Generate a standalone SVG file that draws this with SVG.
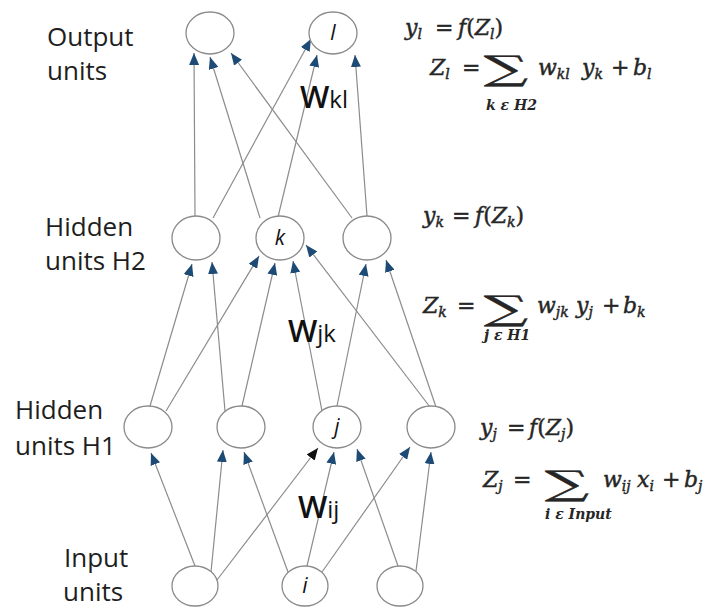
<svg xmlns="http://www.w3.org/2000/svg" width="719" height="608" viewBox="0 0 719 608">
<style>
.bg{fill:#ffffff}
.node{fill:#ffffff;stroke:#8a8a8a;stroke-width:1.3}
.lbl{font-family:"Open Sans","Noto Sans",sans-serif;font-size:26px;fill:#1e1e1e}
.nl{font-family:"Open Sans","Noto Sans",sans-serif;font-style:italic;font-size:21px;fill:#111;text-anchor:middle}
.w{font-family:"Open Sans","Noto Sans",sans-serif;fill:#111}
.m{font-family:"DejaVu Serif","Liberation Serif",serif;font-style:italic;font-size:22px;fill:#262626;stroke:#262626;stroke-width:0.45}
.up{font-style:normal}
.sb{font-size:14px}
.sg{font-family:"DejaVu Serif","Liberation Serif",serif;font-size:40px;fill:#262626;stroke:#262626;stroke-width:0.4;text-anchor:middle}
.lim{font-family:"DejaVu Serif","Liberation Serif",serif;font-style:italic;font-size:14px;font-weight:bold;fill:#262626}
.c{stroke:#8c8c8c;stroke-width:1.2;fill:none;marker-end:url(#ah)}
.cb{stroke:#8c8c8c;stroke-width:1.2;fill:none;marker-end:url(#ahk)}
</style>
<defs>
<marker id="ah" markerUnits="userSpaceOnUse" markerWidth="12" markerHeight="10" refX="12" refY="5" orient="auto" viewBox="0 0 12 10"><path d="M0,0 L12,5 L0,10 z" fill="#1d4b75"/></marker>
<marker id="ahk" markerUnits="userSpaceOnUse" markerWidth="12" markerHeight="10" refX="12" refY="5" orient="auto" viewBox="0 0 12 10"><path d="M0,0 L12,5 L0,10 z" fill="#111111"/></marker>
</defs>
<rect class="bg" x="0" y="0" width="719" height="608"/>

<g id="layer-labels">
<text class="lbl" x="47" y="46">Output</text>
<text class="lbl" x="47" y="80">units</text>
<text class="lbl" x="45" y="236">Hidden</text>
<text class="lbl" x="45" y="270">units H2</text>
<text class="lbl" x="15" y="419">Hidden</text>
<text class="lbl" x="15" y="455">units H1</text>
<text class="lbl" x="64" y="567">Input</text>
<text class="lbl" x="63" y="601">units</text>
</g>

<g id="connectors">
<line class="c" x1="195" y1="216" x2="194" y2="53"/>
<line class="c" x1="260" y1="218" x2="210" y2="57"/>
<line class="c" x1="352" y1="218" x2="231" y2="53"/>
<line class="c" x1="213" y1="218" x2="311" y2="39"/>
<line class="c" x1="278" y1="217" x2="317" y2="55"/>
<line class="c" x1="367" y1="216" x2="355" y2="55"/>

<line class="c" x1="150" y1="406" x2="192" y2="264"/>
<line class="c" x1="225" y1="411" x2="212" y2="262"/>
<line class="c" x1="166" y1="411" x2="259" y2="256"/>
<line class="c" x1="242" y1="406" x2="275" y2="263"/>
<line class="c" x1="322" y1="411" x2="293" y2="261"/>
<line class="c" x1="430" y1="407" x2="306" y2="245"/>
<line class="c" x1="337" y1="406" x2="366" y2="264"/>
<line class="c" x1="436" y1="407" x2="386" y2="260"/>

<line class="c" x1="195" y1="566" x2="151" y2="453"/>
<line class="c" x1="211" y1="572" x2="223" y2="450"/>
<line class="c" x1="288" y1="572" x2="244" y2="452"/>
<line class="cb" x1="217" y1="580" x2="318" y2="448"/>
<line class="c" x1="307" y1="566" x2="334" y2="452"/>
<line class="c" x1="398" y1="566" x2="357" y2="449"/>
<line class="c" x1="322" y1="572" x2="410" y2="447"/>
<line class="c" x1="416" y1="571" x2="431" y2="452"/>
</g>

<g id="out1"><ellipse class="node" cx="210" cy="33" rx="24" ry="21"/></g>
<g id="out-l"><ellipse class="node" cx="333" cy="33" rx="24" ry="21"/><text class="nl" x="333" y="40">l</text></g>

<g id="h2-1"><ellipse class="node" cx="196" cy="238" rx="24" ry="22"/></g>
<g id="h2-k"><ellipse class="node" cx="280" cy="238" rx="24" ry="22"/><text class="nl" x="280" y="245">k</text></g>
<g id="h2-3"><ellipse class="node" cx="367" cy="238" rx="24" ry="22"/></g>

<g id="h1-1"><ellipse class="node" cx="148" cy="427" rx="24" ry="21"/></g>
<g id="h1-2"><ellipse class="node" cx="241" cy="427" rx="24" ry="21"/></g>
<g id="h1-j"><ellipse class="node" cx="337" cy="427" rx="24" ry="21"/><text class="nl" x="337" y="434">j</text></g>
<g id="h1-4"><ellipse class="node" cx="431" cy="427" rx="24" ry="21"/></g>

<g id="in1"><ellipse class="node" cx="195" cy="586" rx="23" ry="20"/></g>
<g id="in-i"><ellipse class="node" cx="305" cy="586" rx="23" ry="20"/><text class="nl" x="305" y="593">i</text></g>
<g id="in3"><ellipse class="node" cx="400" cy="586" rx="23" ry="20"/></g>

<g id="weights">
<text class="w" x="300" y="108"><tspan font-size="31" font-weight="600">W</tspan><tspan font-size="24">kl</tspan></text>
<text class="w" x="288" y="342"><tspan font-size="31" font-weight="600">W</tspan><tspan font-size="24">jk</tspan></text>
<text class="w" x="298" y="518"><tspan font-size="31" font-weight="600">W</tspan><tspan font-size="24">ij</tspan></text>
</g>

<g id="equations">
<text class="m" y="35"><tspan x="405">y</tspan><tspan class="sb" dy="4">l</tspan><tspan class="up" x="435" dy="-4">=</tspan><tspan x="458">f</tspan><tspan class="up">(</tspan><tspan>Z</tspan><tspan class="sb" dy="4">l</tspan><tspan class="up" dy="-4">)</tspan></text>

<text class="sg" transform="translate(506,79.5) scale(1.55,0.85)">∑</text>
<text class="m" y="75"><tspan x="430">Z</tspan><tspan class="sb" dy="4">l</tspan><tspan class="up" x="462" dy="-4">=</tspan><tspan x="538">w</tspan><tspan class="sb" dy="4">kl</tspan><tspan x="582" dy="-4">y</tspan><tspan class="sb" dy="4">k</tspan><tspan class="up" x="611" dy="-4">+</tspan><tspan x="633">b</tspan><tspan class="sb" dy="4">l</tspan></text>
<text class="lim" x="486" y="110">k ε H2</text>

<text class="m" y="223"><tspan x="423">y</tspan><tspan class="sb" dy="4">k</tspan><tspan class="up" x="452" dy="-4">=</tspan><tspan x="475">f</tspan><tspan class="up">(</tspan><tspan>Z</tspan><tspan class="sb" dy="4">k</tspan><tspan class="up" dy="-4">)</tspan></text>

<text class="sg" transform="translate(506,319.5) scale(1.55,0.85)">∑</text>
<text class="m" y="313"><tspan x="423">Z</tspan><tspan class="sb" dy="4">k</tspan><tspan class="up" x="457" dy="-4">=</tspan><tspan x="537">w</tspan><tspan class="sb" dy="4">jk</tspan><tspan x="576" dy="-4">y</tspan><tspan class="sb" dy="4">j</tspan><tspan class="up" x="602" dy="-4">+</tspan><tspan x="623">b</tspan><tspan class="sb" dy="4">k</tspan></text>
<text class="lim" x="484" y="340">j ε H1</text>

<text class="m" y="435"><tspan x="480">y</tspan><tspan class="sb" dy="4">j</tspan><tspan class="up" x="507" dy="-4">=</tspan><tspan x="529">f</tspan><tspan class="up">(</tspan><tspan>Z</tspan><tspan class="sb" dy="4">j</tspan><tspan class="up" dy="-4">)</tspan></text>

<text class="sg" transform="translate(567,494.5) scale(1.55,0.85)">∑</text>
<text class="m" y="487"><tspan x="483">Z</tspan><tspan class="sb" dy="4">j</tspan><tspan class="up" x="513" dy="-4">=</tspan><tspan x="603">w</tspan><tspan class="sb" dy="4">ij</tspan><tspan x="637" dy="-4">x</tspan><tspan class="sb" dy="4">i</tspan><tspan class="up" x="662" dy="-4">+</tspan><tspan x="684">b</tspan><tspan class="sb" dy="4">j</tspan></text>
<text class="lim" x="545" y="519">i ε Input</text>
</g>
</svg>
